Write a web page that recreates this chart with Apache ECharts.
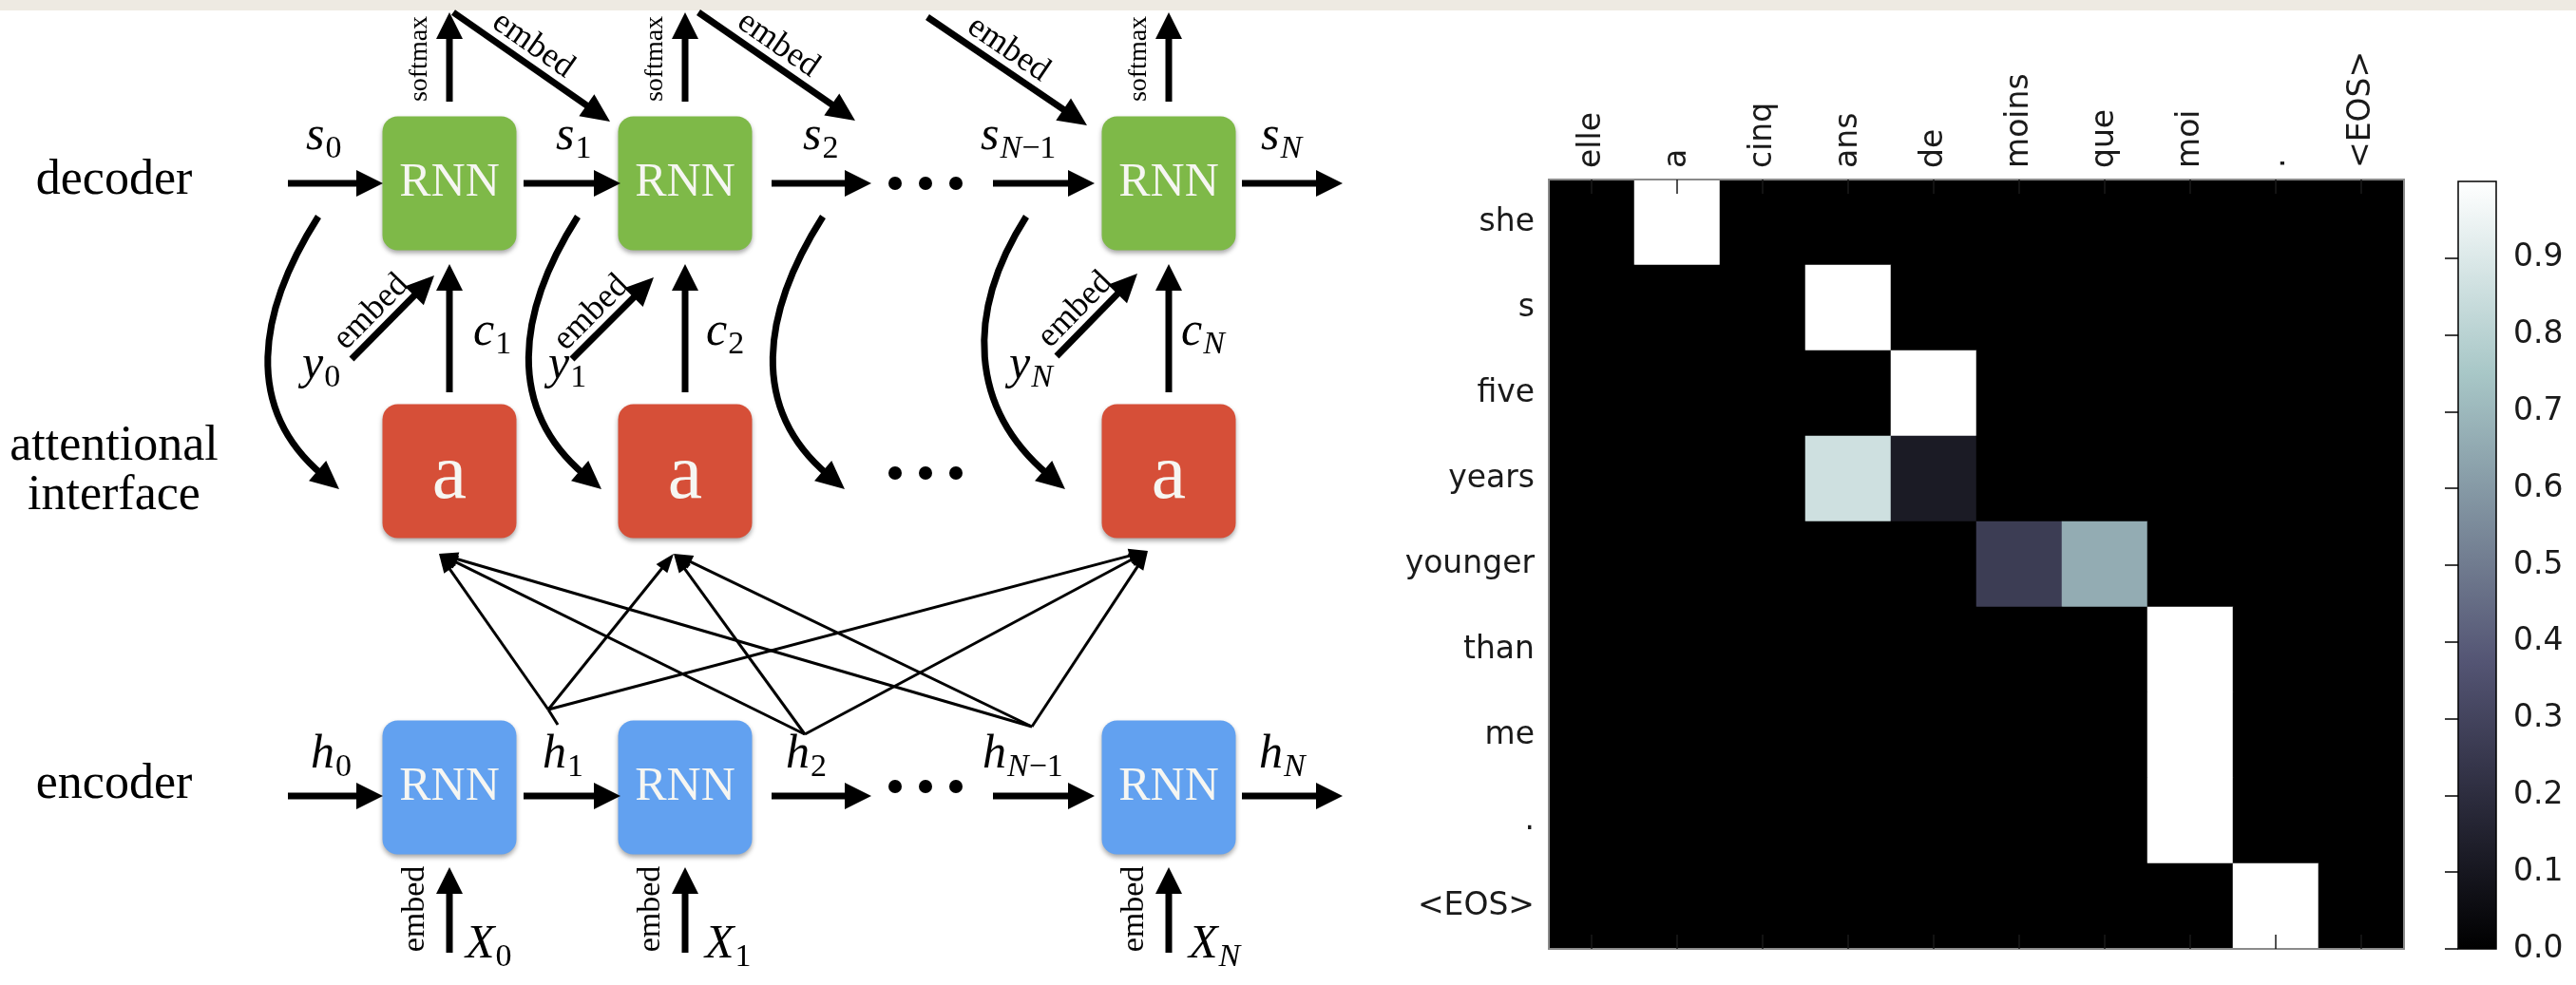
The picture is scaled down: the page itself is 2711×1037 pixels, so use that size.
<!DOCTYPE html>
<html>
<head>
<meta charset="utf-8">
<script src="https://cdn.jsdelivr.net/npm/echarts@6/dist/echarts.min.js"></script>
<style>
  html, body { margin: 0; padding: 0; background: #fff; }
  #chart { width: 2711px; height: 1037px; }
</style>
</head>
<body>
<div id="chart"></div>
<script>
// ---------- attention heatmap data ----------
const srcWords = ['elle', 'a', 'cinq', 'ans', 'de', 'moins', 'que', 'moi', '.', '<EOS>'];
const tgtWords = ['she', 's', 'five', 'years', 'younger', 'than', 'me', '.', '<EOS>'];
const attention = [
    [0, 1, 0, 0, 0, 0, 0, 0, 0, 0],        // she
    [0, 0, 0, 1, 0, 0, 0, 0, 0, 0],        // s
    [0, 0, 0, 0, 1, 0, 0, 0, 0, 0],        // five
    [0, 0, 0, 0.86, 0.12, 0, 0, 0, 0, 0],  // years
    [0, 0, 0, 0, 0, 0.27, 0.66, 0, 0, 0],  // younger
    [0, 0, 0, 0, 0, 0, 0, 1, 0, 0],        // than
    [0, 0, 0, 0, 0, 0, 0, 1, 0, 0],        // me
    [0, 0, 0, 0, 0, 0, 0, 1, 0, 0],        // .
    [0, 0, 0, 0, 0, 0, 0, 0, 1, 0]         // <EOS>
];
const cbarTicks = [0, 0.1, 0.2, 0.3, 0.4, 0.5, 0.6, 0.7, 0.8, 0.9];

// ---------- diagram text ----------
const rowTitles = [['decoder'], ['attentional', 'interface'], ['encoder']];
const rowCells = ['RNN', 'a', 'RNN'];
const decStates = [['s', '0'], ['s', '1'], ['s', '2'], ['s', 'N−1'], ['s', 'N']];
const encStates = [['h', '0'], ['h', '1'], ['h', '2'], ['h', 'N−1'], ['h', 'N']];
const outputs = [['y', '0'], ['y', '1'], ['y', 'N']];
const contexts = [['c', '1'], ['c', '2'], ['c', 'N']];
const inputs = [['X', '0'], ['X', '1'], ['X', 'N']];

// ---------- diagram layout (hidden axes, 1 unit = 1px) ----------
const COL_X = [473, 721, 1230];
const DOTS_X = [942, 974, 1006];
const ROW_Y = [193, 496, 829];
const DOT_Y = [193, 498, 828];
const BOX = { w: 141, h: 141, r: 16 };
const CHAIN_X = [[303, 403], [551, 653], [812, 917], [1045, 1152], [1307, 1413]];
const CHAIN_Y = [193, 838];
const DEC_LABEL_X = [322, 585, 845, 1032, 1327];
const ENC_LABEL_X = [327, 571, 827, 1034, 1325];
const Y_LABEL_X = [318, 577, 1062];
const C_LABEL_X = [498, 743, 1243];
const X_LABEL_X = [490, 742, 1251];
const TOP_EMBED = [[477, 13, 642, 128], [735, 13, 900, 127], [976, 18, 1144, 132]];
const LOW_EMBED = [[370, 378, 457, 290], [602, 378, 688, 292], [1112, 375, 1197, 288]];
const FEEDBACK = [[335, 357], [608, 633], [866, 889], [1080, 1121]];
const ATT_SRC = [[577, 747], [847, 773], [1086, 765]];
const ATT_DST = [[462, 583], [709, 583], [1208, 580]];

const ROW_FILL = ['#7eb948', '#d64f38', '#62a1f0'];
const INK = '#000';
const SERIF = '"Liberation Serif", "DejaVu Serif", serif';
const MATH = 50, SUB = 34;
const boneColors = ['#000000', '#1c1c27', '#38384e', '#545574', '#707b8f',
                    '#8ba1ab', '#a8c7c7', '#d3e3e3', '#ffffff'];

const measureCtx = document.createElement('canvas').getContext('2d');
function textWidth(s, font) {
    measureCtx.font = font;
    return measureCtx.measureText(s).width;
}

function drawDiagram(params, api) {
    const kids = [];
    const P = (x, y) => api.coord([x, y]);

    const seg = (a, b, w) => kids.push({
        type: 'line', shape: { x1: a[0], y1: a[1], x2: b[0], y2: b[1] },
        style: { stroke: INK, lineWidth: w }
    });
    const head = (b, ux, uy, len, wid) => {
        const bx = b[0] - ux * len, by = b[1] - uy * len;
        const nx = -uy * wid / 2, ny = ux * wid / 2;
        kids.push({
            type: 'polygon',
            shape: { points: [[b[0], b[1]], [bx + nx, by + ny], [bx - nx, by - ny]] },
            style: { fill: INK }
        });
    };
    const arrow = (x1, y1, x2, y2, w, len, wid) => {
        const a = P(x1, y1), b = P(x2, y2);
        const dx = b[0] - a[0], dy = b[1] - a[1], L = Math.hypot(dx, dy);
        const ux = dx / L, uy = dy / L;
        seg(a, [b[0] - ux * len * 0.8, b[1] - uy * len * 0.8], w);
        head(b, ux, uy, len, wid);
    };
    const label = (x, y, text, font, rot, extra) => {
        const p = P(x, y);
        kids.push({
            type: 'text', x: p[0], y: p[1], rotation: rot || 0,
            style: Object.assign({
                text: text, font: font, fill: INK,
                align: 'center', verticalAlign: 'middle',
                textAlign: 'center', textVerticalAlign: 'middle'
            }, extra || {})
        });
    };
    // italic symbol with subscript, x = left edge, base = baseline
    const math = (x, base, pair) => {
        const sym = pair[0], sub = pair[1];
        const f = 'italic ' + MATH + 'px ' + SERIF;
        label(x, base - 0.3375 * MATH, sym, f, 0, { align: 'left', textAlign: 'left' });
        const w = textWidth(sym, f);
        const rich = sub.match(/[A-Za-z]+|[^A-Za-z]+/g)
            .map(t => /[A-Za-z]/.test(t) ? '{i|' + t + '}' : '{u|' + t + '}').join('');
        label(x + w + 1, base + 8 - 0.3375 * SUB, rich, SUB + 'px ' + SERIF, 0, {
            align: 'left', textAlign: 'left',
            rich: {
                i: { fontStyle: 'italic', fontSize: SUB, fontFamily: SERIF, fill: INK },
                u: { fontStyle: 'normal', fontSize: SUB, fontFamily: SERIF, fill: INK }
            }
        });
    };

    // row titles
    rowTitles.forEach((lines, r) => {
        const y0 = r === 1 ? 470 : ROW_Y[r] - 3;
        lines.forEach((t, k) => label(120, y0 + k * 52, t, '52px ' + SERIF));
    });

    // boxes
    ROW_Y.forEach((cy, r) => {
        COL_X.forEach(cx => {
            const tl = P(cx - BOX.w / 2, cy - BOX.h / 2);
            kids.push({
                type: 'rect',
                shape: { x: tl[0], y: tl[1], width: BOX.w, height: BOX.h, r: BOX.r },
                style: { fill: ROW_FILL[r], shadowBlur: 5, shadowOffsetY: 3, shadowColor: 'rgba(0,0,0,0.35)' }
            });
            const big = rowCells[r] === 'a';
            label(cx, cy + (big ? 6 : 0), rowCells[r], (big ? 82 : 50) + 'px ' + SERIF, 0, { fill: '#f6f6f2' });
        });
    });

    // ellipses
    DOT_Y.forEach(y => DOTS_X.forEach(x => {
        const c = P(x, y);
        kids.push({ type: 'circle', shape: { cx: c[0], cy: c[1], r: 7 }, style: { fill: INK } });
    }));

    // recurrent chains
    CHAIN_Y.forEach(y => CHAIN_X.forEach(([a, b]) => arrow(a, y, b, y, 7, 28, 28)));
    decStates.forEach((s, i) => math(DEC_LABEL_X[i], 161, s));
    encStates.forEach((s, i) => math(ENC_LABEL_X[i], 812, s));

    // softmax outputs, context inputs, encoder embeddings
    COL_X.forEach((cx, i) => {
        arrow(cx, 107, cx, 13, 7, 28, 28);
        label(cx - 31, 62, 'softmax', '28px ' + SERIF, Math.PI / 2);
        arrow(cx, 413, cx, 278, 7, 28, 28);
        math(C_LABEL_X[i], 367, contexts[i]);
        arrow(cx, 1003, cx, 913, 7, 28, 28);
        label(cx - 36, 957, 'embed', '34px ' + SERIF, Math.PI / 2);
        math(X_LABEL_X[i], 1012, inputs[i]);
    });

    // diagonal embeddings
    const diag = (e, side) => {
        arrow(e[0], e[1], e[2], e[3], 7, 30, 28);
        const dx = e[2] - e[0], dy = e[3] - e[1], L = Math.hypot(dx, dy);
        const ux = dx / L, uy = dy / L;
        const nx = side * uy, ny = -side * ux;
        const mx = (e[0] + e[2]) / 2, my = (e[1] + e[3]) / 2;
        label(mx + nx * 20 - ux * 12, my + ny * 20 - uy * 12, 'embed', '36px ' + SERIF, -Math.atan2(dy, dx));
    };
    TOP_EMBED.forEach(e => diag(e, 1));
    LOW_EMBED.forEach(e => diag(e, 1));
    outputs.forEach((s, i) => math(Y_LABEL_X[i], 402, s));

    // decoder state feeding the attention
    FEEDBACK.forEach(([x0, x1]) => {
        const S = P(x0, 228), E = P(x1, 515), C1 = P(x0 - 65, 330), C2 = P(x1 - 100, 430);
        const dx = E[0] - C2[0], dy = E[1] - C2[1], L = Math.hypot(dx, dy);
        const ux = dx / L, uy = dy / L;
        kids.push({
            type: 'bezierCurve',
            shape: { x1: S[0], y1: S[1], cpx1: C1[0], cpy1: C1[1], cpx2: C2[0], cpy2: C2[1],
                     x2: E[0] - ux * 24, y2: E[1] - uy * 24 },
            style: { stroke: INK, lineWidth: 7, fill: null }
        });
        head(E, ux, uy, 30, 28);
    });

    // attention: every encoder state to every attention box
    ATT_SRC.forEach(s => ATT_DST.forEach(d => arrow(s[0], s[1], d[0], d[1], 3, 20, 15)));
    seg(P(577, 747), P(587, 763), 3);

    return { type: 'group', children: kids };
}

function drawColorbar(params, api) {
    const tl = api.coord([0, 1]), br = api.coord([1, 0]);
    const shape = { x: tl[0], y: tl[1], width: br[0] - tl[0], height: br[1] - tl[1] };
    const stops = boneColors.slice().reverse().map((c, i, a) => ({ offset: i / (a.length - 1), color: c }));
    return {
        type: 'group',
        children: [
            { type: 'rect', shape: shape, style: { fill: new echarts.graphic.LinearGradient(0, 0, 0, 1, stops) } },
            { type: 'rect', shape: shape, style: { fill: null, stroke: '#000', lineWidth: 1.5 } }
        ]
    };
}

const cells = [];
attention.forEach((row, r) => row.forEach((v, c) => cells.push([c, r, v])));

const labelFont = { fontFamily: '"DejaVu Sans", sans-serif', fontSize: 33, color: '#1a1a1a' };
const spine = { show: true, lineStyle: { color: '#8a8a8a', width: 2 } };
const innerTick = { show: true, inside: true, alignWithLabel: true, length: 15, lineStyle: { color: '#1a1a1a', width: 1.5 } };

const chart = echarts.init(document.getElementById('chart'));
chart.setOption({
    backgroundColor: '#fff',
    animation: false,
    graphic: [{
        type: 'rect', left: 0, top: 0, silent: true, z: -1,
        shape: { width: 2711, height: 11 }, style: { fill: '#eeeae2' }
    }],
    grid: [
        { left: 0, top: 0, width: 1480, height: 1037 },
        { left: 1630, top: 189, width: 900, height: 810 },
        { left: 2587, top: 191, width: 40, height: 808 }
    ],
    xAxis: [
        { gridIndex: 0, type: 'value', min: 0, max: 1480, show: false },
        {
            gridIndex: 1, type: 'category', data: srcWords, position: 'top', z: 10,
            axisLine: spine, axisTick: innerTick, splitLine: { show: false },
            axisLabel: Object.assign({ rotate: -90, margin: 12, interval: 0 }, labelFont)
        },
        {
            gridIndex: 1, type: 'category', data: srcWords, position: 'bottom', z: 10,
            axisLine: spine, axisTick: innerTick, axisLabel: { show: false }, splitLine: { show: false }
        },
        { gridIndex: 2, type: 'value', min: 0, max: 1, show: false }
    ],
    yAxis: [
        { gridIndex: 0, type: 'value', min: 0, max: 1037, inverse: true, show: false },
        {
            gridIndex: 1, type: 'category', data: tgtWords, inverse: true, z: 10,
            axisLine: spine, axisTick: { show: false }, splitLine: { show: false },
            axisLabel: Object.assign({ margin: 15, interval: 0 }, labelFont)
        },
        {
            gridIndex: 1, type: 'category', data: tgtWords, inverse: true, position: 'right', z: 10,
            axisLine: spine, axisTick: { show: false }, axisLabel: { show: false }, splitLine: { show: false }
        },
        {
            gridIndex: 2, type: 'value', min: 0, max: 1, position: 'right', z: 10,
            axisLine: { show: false }, splitLine: { show: false },
            axisTick: { show: true, inside: true, length: 14, customValues: cbarTicks, lineStyle: { color: '#000', width: 1.5 } },
            axisLabel: Object.assign({ margin: 18, customValues: cbarTicks, formatter: v => v.toFixed(1) }, labelFont)
        }
    ],
    visualMap: {
        type: 'continuous', show: false, min: 0, max: 1, seriesIndex: 1,
        inRange: { color: boneColors }
    },
    series: [
        {
            type: 'custom', xAxisIndex: 0, yAxisIndex: 0, silent: true, clip: false,
            data: [[0, 0]], renderItem: drawDiagram
        },
        {
            type: 'heatmap', xAxisIndex: 1, yAxisIndex: 1, data: cells,
            itemStyle: { borderWidth: 0 }, emphasis: { disabled: true }, progressive: 0
        },
        {
            type: 'custom', xAxisIndex: 3, yAxisIndex: 3, silent: true,
            data: [[0, 0]], renderItem: drawColorbar
        }
    ]
});
</script>
</body>
</html>
